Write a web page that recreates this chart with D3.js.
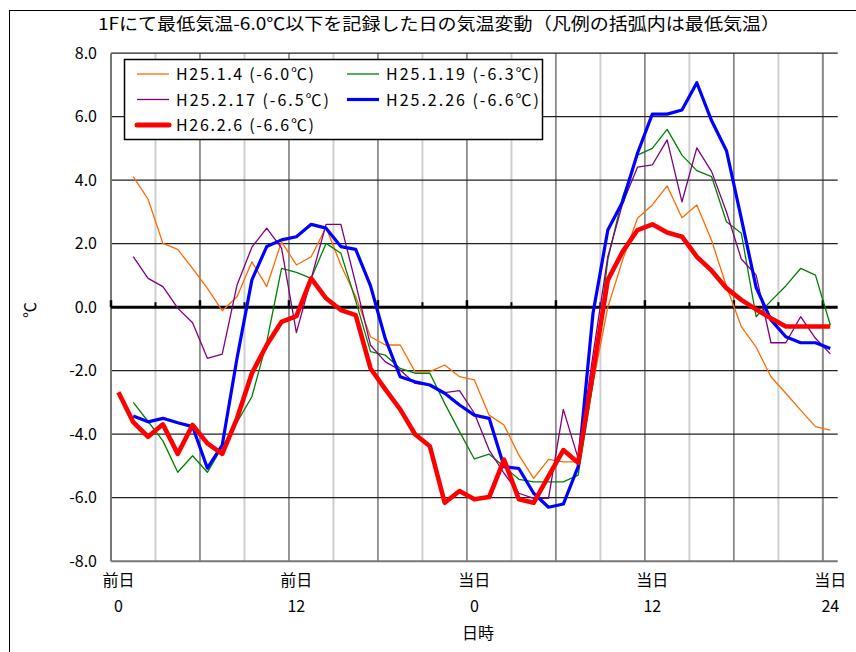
<!DOCTYPE html>
<html><head><meta charset="utf-8">
<script src="https://cdn.jsdelivr.net/npm/d3@7/dist/d3.min.js"></script>
<style>
body{margin:0;background:#fff;}
svg{display:block;}
text{font-family:"Noto Sans CJK JP","Noto Sans",sans-serif;fill:#000;}
</style>
</head><body>
<svg id="chart" width="856" height="652"></svg>
<script>
// ---- data ----
const hours = [0,1,2,3,4,5,6,7,8,9,10,11,12,13,14,15,16,17,18,19,20,21,22,23,24,25,26,27,28,29,30,31,32,33,34,35,36,37,38,39,40,41,42,43,44,45,46,47,48];

const seriesNames = ["H25.1.4 (-6.0℃)","H25.1.19 (-6.3℃)","H25.2.17 (-6.5℃)","H25.2.26 (-6.6℃)","H26.2.6 (-6.6℃)"];

const h25_1_4 = [null,4.11,3.40,2.01,1.82,1.22,0.59,-0.11,0.33,1.43,0.65,2.06,1.33,1.59,2.52,1.33,0.33,-0.93,-1.19,-1.19,-2.03,-2.03,-1.82,-2.19,-2.29,-3.40,-3.71,-4.66,-5.39,-4.79,-4.87,-4.87,-2.4,0.0,1.49,2.80,3.22,3.82,2.82,3.22,2.10,0.65,-0.61,-1.26,-2.19,-2.71,-3.24,-3.76,-3.87];
const h25_1_19 = [null,-3.0,-3.6,-4.21,-5.20,-4.68,-5.20,-4.40,-3.62,-2.82,-1.10,1.22,1.10,0.91,2.01,1.70,0.20,-1.40,-1.51,-1.93,-2.08,-2.08,-3.03,-3.92,-4.78,-4.63,-5.02,-5.42,-5.50,-5.50,-5.50,-5.29,-2.4,1.5,3.48,4.79,5.00,5.60,4.79,4.30,4.11,2.69,2.33,-0.30,0.20,0.67,1.22,1.01,-0.56];
const h25_2_17 = [null,1.59,0.91,0.65,-0.03,-0.49,-1.61,-1.48,0.70,1.89,2.49,1.86,-0.80,0.90,2.61,2.61,0.74,-1.20,-1.72,-1.98,-2.40,-2.45,-2.69,-2.63,-3.34,-4.50,-5.23,-5.86,-6.02,-6.02,-3.22,-4.76,-1.5,1.59,3.27,4.41,4.48,5.27,3.32,5.02,4.27,3.00,1.52,1.01,-1.12,-1.12,-0.30,-0.98,-1.47];
const h25_2_26 = [null,-3.43,-3.61,-3.50,-3.64,-3.76,-5.07,-4.34,-1.60,0.86,1.91,2.12,2.22,2.61,2.49,1.91,1.82,0.67,-1.00,-2.19,-2.35,-2.45,-2.71,-3.08,-3.40,-3.50,-5.02,-5.08,-5.86,-6.30,-6.20,-5.02,-0.19,2.43,3.32,4.85,6.08,6.08,6.21,7.07,5.87,4.93,2.80,0.62,-0.40,-0.93,-1.12,-1.12,-1.30];
const h26_2_6 = [-2.68,-3.62,-4.08,-3.69,-4.62,-3.71,-4.29,-4.62,-3.50,-2.08,-1.19,-0.46,-0.28,0.91,0.28,-0.09,-0.25,-1.93,-2.59,-3.22,-4.00,-4.38,-6.16,-5.79,-6.05,-5.98,-4.80,-6.05,-6.16,-5.32,-4.50,-4.90,-2.05,0.86,1.75,2.43,2.61,2.35,2.22,1.59,1.15,0.60,0.23,-0.07,-0.35,-0.61,-0.61,-0.61,-0.61];

const yTickValues = [-8,-6,-4,-2,0,2,4,6,8];
const xLabelHours = [0,12,24,36,48];
const xLabelDays = ["前日","前日","当日","当日","当日"];
const xLabelTimes = ["0","12","0","12","24"];
const gridHours = [3,6,9,12,15,18,21,24,27,30,33,36,39,42,45,48];

const titleText = "1Fにて最低気温-6.0℃以下を記録した日の気温変動（凡例の括弧内は最低気温）";
const xTitle = "日時";
const yTitle = "℃";

// ---- layout ----
const L = 111, R = 837.7, T = 53.2, B = 561.2;
const svg = d3.select("#chart");

const x = d3.scaleBand().domain(hours).range([L, R]).paddingInner(0).paddingOuter(0);
const bw = x.bandwidth();
const xc = h => x(h) + bw / 2;
const xb = k => L + k * bw; // category boundary
const y = d3.scaleLinear().domain([-8, 8]).range([B, T]);

// outer frame
svg.append("rect").attr("x", 9.5).attr("y", 10.5).attr("width", 900).attr("height", 700)
  .attr("fill", "#fff").attr("stroke", "#000").attr("stroke-width", 1);

// title
svg.append("text").attr("x", 98).attr("y", 30).attr("font-size", 17)
  .attr("textLength", 682).attr("lengthAdjust", "spacingAndGlyphs").text(titleText);

// vertical grid
svg.append("g").selectAll("line").data(gridHours).join("line")
  .attr("x1", d => xb(d)).attr("x2", d => xb(d)).attr("y1", T).attr("y2", B)
  .attr("stroke", d => d === 48 ? "#8a8a8a" : (d % 6 === 0 ? "#606060" : "#cfcfcf"))
  .attr("stroke-width", d => d === 48 ? 2 : (d % 6 === 0 ? 1.3 : 2));

// horizontal grid
svg.append("g").selectAll("line").data(yTickValues.filter(v => v !== 0)).join("line")
  .attr("x1", L).attr("x2", R).attr("y1", d => y(d)).attr("y2", d => y(d))
  .attr("stroke", d => d === -8 ? "#777" : "#222").attr("stroke-width", d => d === -8 ? 2 : 1.2);

// left axis line
svg.append("line").attr("x1", L).attr("x2", L).attr("y1", T).attr("y2", B)
  .attr("stroke", "#777").attr("stroke-width", 2);

// y axis labels
const yAxis = d3.axisLeft(y).tickValues(yTickValues).tickSize(0).tickPadding(14)
  .tickFormat(d => d.toFixed(1));
const gy = svg.append("g").attr("transform", `translate(${L},0)`).call(yAxis);
gy.select(".domain").remove();
gy.selectAll("text").attr("font-size", 16).attr("font-family", '"Noto Sans CJK JP","Noto Sans",sans-serif').attr("fill", "#000");

// zero line + ticks
svg.append("line").attr("x1", L).attr("x2", R).attr("y1", y(0)).attr("y2", y(0))
  .attr("stroke", "#000").attr("stroke-width", 3);
svg.append("g").selectAll("line").data([0].concat(gridHours)).join("line")
  .attr("x1", d => xb(d)).attr("x2", d => xb(d))
  .attr("y1", y(0)).attr("y2", d => y(0) - (d % 6 === 0 ? 7 : 5))
  .attr("stroke", "#000").attr("stroke-width", d => d % 6 === 0 ? 2.5 : 2);

// x labels
const xl = svg.append("g");
xLabelHours.forEach((h, i) => {
  xl.append("text").attr("x", xc(h)).attr("y", 586).attr("text-anchor", "middle")
    .attr("font-size", 16).text(xLabelDays[i]);
  xl.append("text").attr("x", xc(h)).attr("y", 612).attr("text-anchor", "middle")
    .attr("font-size", 16).text(xLabelTimes[i]);
});
svg.append("text").attr("x", 478).attr("y", 639).attr("text-anchor", "middle")
  .attr("font-size", 16).text(xTitle);
svg.append("text").attr("transform", "translate(36,310) rotate(-90)").attr("text-anchor", "middle")
  .attr("font-size", 16).text(yTitle);

// series
const seriesData = [h25_1_4, h25_1_19, h25_2_17, h25_2_26, h26_2_6];
const colors = ["#ff6a00", "#008000", "#800080", "#0000ff", "#ff0000"];
const widths = [1.3, 1.3, 1.3, 3.2, 4.6];
const line = d3.line().defined(d => d.v !== null).x(d => xc(d.h)).y(d => y(d.v));
seriesData.forEach((s, i) => {
  svg.append("path").datum(hours.map((h, j) => ({h: h, v: s[j]})))
    .attr("d", line).attr("fill", "none").attr("stroke", colors[i])
    .attr("stroke-width", widths[i]).attr("stroke-linejoin", "round");
});

// legend
const lg = svg.append("g");
lg.append("rect").attr("x", 124.5).attr("y", 59.5).attr("width", 418).attr("height", 80)
  .attr("fill", "#fff").attr("stroke", "#000").attr("stroke-width", 1.5);
const legPos = [[137, 74], [347, 74], [137, 99.5], [347, 99.5], [137, 125]];
seriesNames.forEach((n, i) => {
  const [lx, ly] = legPos[i];
  lg.append("line").attr("x1", lx).attr("x2", lx + 32).attr("y1", ly).attr("y2", ly)
    .attr("stroke", colors[i]).attr("stroke-width", i === 4 ? 5 : widths[i])
    .attr("stroke-linecap", i === 4 ? "round" : "butt");
  lg.append("text").attr("x", lx + 39).attr("y", ly + 6).attr("font-size", 16)
    .attr("textLength", i === 0 ? 138 : (i === 4 ? 138 : 153)).attr("lengthAdjust", "spacing").text(n);
});
</script>
</body></html>
